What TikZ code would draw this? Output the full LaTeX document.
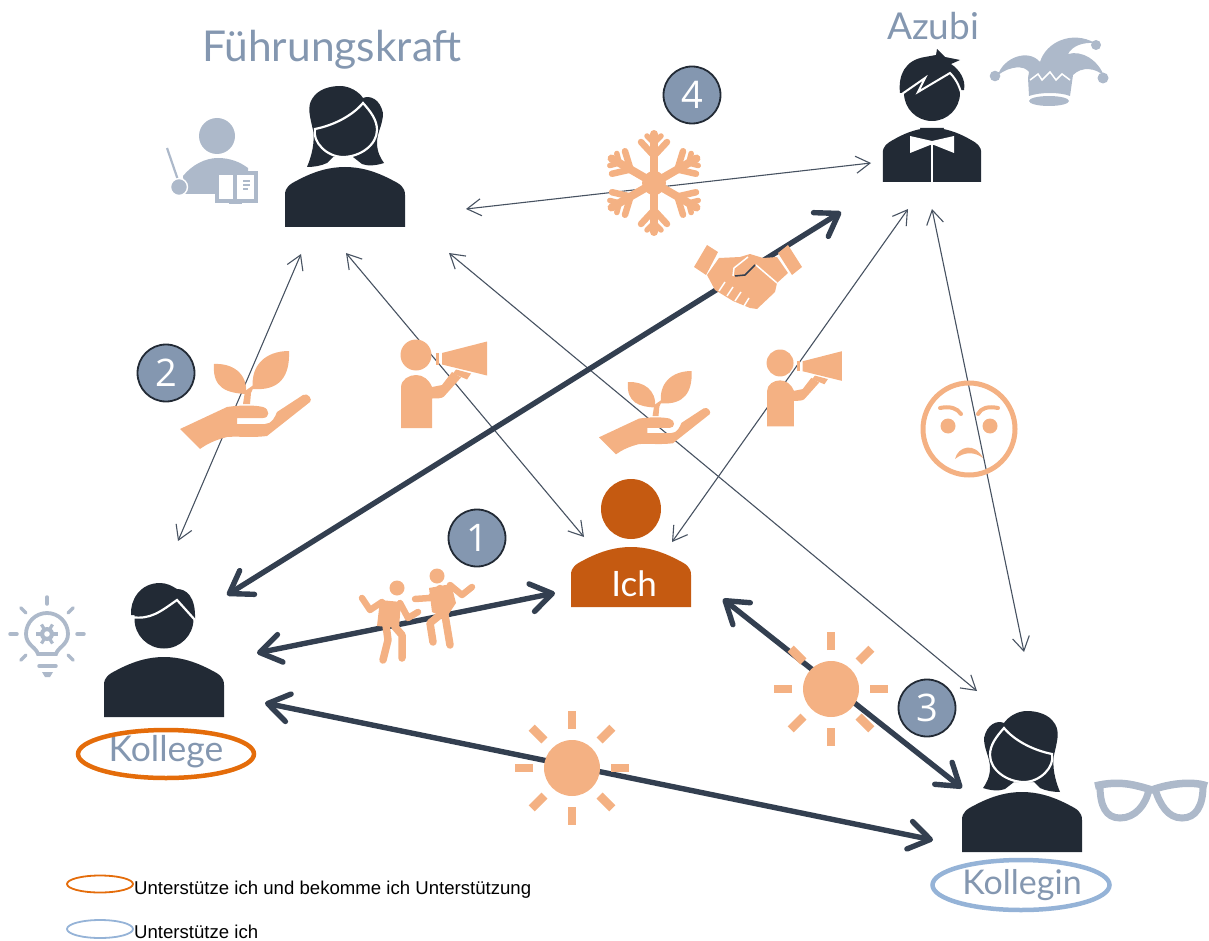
\documentclass[tikz,border=0pt]{standalone}
\usepackage{fontspec}
\setmainfont{Lato}
\newfontfamily\legendfont{Liberation Sans}
\newfontfamily\numfont{Open Sans}
\usetikzlibrary{arrows.meta,shapes.geometric}
\definecolor{figdark}{HTML}{222A35}
\definecolor{ichbrown}{HTML}{C55A11}
\definecolor{iconorange}{HTML}{F4B183}
\definecolor{icongrey}{HTML}{ADB9CA}
\definecolor{labelblue}{HTML}{8497B0}
\definecolor{linkdark}{HTML}{333F50}
\definecolor{ringorange}{HTML}{E46C0A}
\definecolor{ringblue}{HTML}{95B3D7}
\tikzset{
  weaklink/.style={{Straight Barb[length=14pt,width=17pt]}-{Straight Barb[length=14pt,width=17pt]},linkdark!90!white,line width=1.1pt},
  stronglink/.style={{Straight Barb[round,length=21pt,width=28pt]}-{Straight Barb[round,length=21pt,width=28pt]},linkdark,line width=5.4pt},
  rolelabel/.style={labelblue,font=\fontsize{37}{37}\selectfont,inner sep=0pt},
  numberdot/.style={circle,draw=figdark,line width=1.8pt,fill=labelblue,minimum size=57pt,inner sep=0pt,text=white,font=\numfont\fontsize{38}{38}\selectfont},
  legendtext/.style={anchor=base west,inner sep=0pt,font=\legendfont\fontsize{18.6}{18.6}\selectfont},
  ring/.style={draw,ellipse,line width=4.5pt,fill=none},
  bodypic/.pic={
    \fill[pic actions] (-60,60) -- (-60,28) .. controls (-60,20) and (-55,17) .. (-47,13) .. controls (-30,4) and (-15,0) .. (0,0)
      .. controls (15,0) and (30,4) .. (47,13) .. controls (55,17) and (60,20) .. (60,28) -- (60,60) -- cycle;
  },
  womanhead/.pic={
    \fill[figdark] (-38,0) .. controls (-33,-12) and (-30,-25) .. (-32,-37) .. controls (-35,-50) and (-38,-60) .. (-33,-68)
      .. controls (-27,-78) and (-15,-81) .. (-5,-81) .. controls (5,-81) and (14,-75) .. (18,-69)
      .. controls (25,-72) and (35,-68) .. (38,-54) .. controls (38,-42) and (32,-35) .. (32,-24)
      .. controls (32,-15) and (36,-8) .. (39,-4) .. controls (30,-1) and (22,-1) .. (17,-3) -- (8,-10) -- (-12,-10) -- (-18,-4)
      .. controls (-24,-1) and (-32,0) .. (-38,0) -- cycle;
    \filldraw[fill=figdark,draw=white,line width=2.2pt] (-30,-38) .. controls (-10,-42) and (8,-52) .. (18,-64)
      .. controls (26,-55) and (32,-47) .. (32,-37) .. controls (32,-22) and (15,-10) .. (-2,-10)
      .. controls (-18,-10) and (-33,-25) .. (-30,-38) -- cycle;
  },
  planthand/.pic={
    \fill[iconorange] (0,78) -- (47,56) .. controls (60,54) and (75,54) .. (83,56) .. controls (90,58) and (90,67) .. (83,67)
      -- (57,67) -- (57,73) -- (85,73) .. controls (92,73) and (95,66) .. (97,61) -- (123,44)
      .. controls (128,41) and (133,49) .. (130,51) -- (87,85) .. controls (70,87) and (60,85) .. (47,86)
      .. controls (35,89) and (27,93) .. (20,98) -- cycle;
    \fill[iconorange] (34,13) .. controls (52,12) and (68,22) .. (66,43) .. controls (48,42) and (32,38) .. (34,13) -- cycle;
    \fill[iconorange] (109,0) .. controls (110,25) and (100,40) .. (73,38) .. controls (70,15) and (85,0) .. (109,0) -- cycle;
    \fill[iconorange] (63,53) -- (65,40) -- (75,33) -- (71,42) -- (70,53) -- cycle;
  },
  bullhorn/.pic={
    \fill[iconorange] (15,15.5) circle (15.5);
    \fill[iconorange] (0,88.5) -- (0,48) .. controls (0,40) and (8,35.5) .. (15,35.5) .. controls (22,35.5) and (28,40) .. (31,47.5)
      -- (41,45.5) -- (51,32.5) -- (60,38) -- (43,57) .. controls (41,59) and (36,59) .. (31,59) -- (31,88.5) -- cycle;
    \fill[iconorange] (41,13.5) -- (86,2) -- (86,36) -- (41,25) -- cycle;
    \fill[iconorange] (35,13.5) rectangle (38,25);
    \fill[iconorange] (55,30) -- (70,34) -- (66,40) -- (52,34) -- cycle;
  },
  sunrays/.pic={
    \fill[iconorange] (0,0) circle (28);
    \foreach \a in {0,45,...,315} {
      \draw[iconorange,line width=8.5pt] (\a:39) -- (\a:57);
    }
  },
}
\begin{document}
\begin{tikzpicture}[x=1pt,y=-1pt]
  \useasboundingbox (0,0) rectangle (1209,941);

  % Link ends
  \coordinate (fkEast) at (466,209);
  \coordinate (fkSw) at (301,254);
  \coordinate (fkS) at (346,253);
  \coordinate (fkSe) at (449,253);
  \coordinate (azWest) at (871,163);
  \coordinate (azSw) at (841,212);
  \coordinate (azS) at (908,209);
  \coordinate (azSe) at (932,209);
  \coordinate (koNorth) at (178,541);
  \coordinate (koNe) at (227,595);
  \coordinate (koEast) at (257,653);
  \coordinate (koSe) at (265,703);
  \coordinate (ichNw) at (584,537);
  \coordinate (ichNe) at (672,542);
  \coordinate (ichWest) at (555,593);
  \coordinate (ichSe) at (723,599);
  \coordinate (kinNw) at (977,691);
  \coordinate (kinNorth) at (1024,652);
  \coordinate (kinWest) at (962,788);
  \coordinate (kinSw) at (933,840);

  % Thin links
  \draw[weaklink] (fkEast) -- (azWest);
  \draw[weaklink] (fkSw) -- (koNorth);
  \draw[weaklink] (fkS) -- (ichNw);
  \draw[weaklink] (fkSe) -- (kinNw);
  \draw[weaklink] (ichNe) -- (azS);
  \draw[weaklink] (azSe) -- (kinNorth);

  % Thick links
  \draw[stronglink] (koNe) -- (azSw);
  \draw[stronglink] (koEast) -- (ichWest);
  \draw[stronglink] (koSe) -- (kinSw);
  \draw[stronglink] (ichSe) -- (kinWest);

  % People
  \pic[fill=figdark] at (345,167) {bodypic};
  \pic at (345,167) {womanhead};
  \pic[fill=figdark] at (1022,792) {bodypic};
  \pic[xscale=-1] at (1022,792) {womanhead};
  \pic[fill=ichbrown] at (631,547) {bodypic};
  \fill[ichbrown] (631,509) circle (30);
  \pic[fill=figdark] at (164,657) {bodypic};
  \fill[figdark] (164,619) circle (29.5);
  \fill[figdark] (131,615) .. controls (130,600) and (140,583) .. (160,583) .. controls (167,583) and (172,586) .. (177,589)
    .. controls (186,589) and (196,596) .. (195,620) -- cycle;
  \draw[white,line width=2.2pt] (131,617) .. controls (150,620) and (160,612) .. (177,600) -- (195,620);
  \pic[fill=figdark,xscale=0.82,yscale=0.9] at (932,128) {bodypic};
  \fill[figdark] (932,93) circle (28);
  \fill[figdark] (900,93) .. controls (898,75) and (905,60) .. (925,57) -- (936,55) -- (937,49) -- (945,57) -- (960,60) -- (951,64)
    .. controls (960,70) and (966,80) .. (964,90) -- cycle;
  \draw[white,line width=2pt] (902,94) -- (925,78) -- (918,92) -- (950,73) .. controls (957,80) and (960,88) .. (962,96);
  \fill[white] (910,136) -- (932,141) -- (954,136) -- (954,153) -- (934,145) -- (930,145) -- (910,153) -- cycle;
  \fill[figdark] (920,128) .. controls (922,140) and (942,140) .. (944,128) -- cycle;
  \draw[white,line width=2pt] (932,145) -- (932,182);

  % Role labels
  \node[rolelabel,font=\fontsize{42.5}{42.5}\selectfont] (fkLabel) at (332,50) {Führungskraft};
  \node[rolelabel] (azLabel) at (933,26) {Azubi};
  \node[rolelabel,font=\fontsize{35.5}{35.5}\selectfont] (koLabel) at (166,752) {Kollege};
  \node[rolelabel,font=\fontsize{34}{34}\selectfont] (kinLabel) at (1022,885) {Kollegin};
  \node[rolelabel,text=white,font=\fontsize{35}{35}\selectfont] (ichLabel) at (634,584) {Ich};
  \node[ring,ringorange,minimum width=176pt,minimum height=48pt] (koRing) at (166,754) {};
  \node[ring,ringblue,minimum width=177pt,minimum height=50pt] (kinRing) at (1021,885) {};

  % Numbers
  \node[numberdot] (numOne) at (477,538) {1};
  \node[numberdot] (numTwo) at (166,373) {2};
  \node[numberdot] (numThree) at (927,708) {3};
  \node[numberdot] (numFour) at (692,95) {4};

  % Orange icons
  \pic at (180,351) {planthand};
  \pic[scale=0.85] at (599,371) {planthand};
  \pic at (401,339.5) {bullhorn};
  \pic[scale=0.87] at (767,349.5) {bullhorn};
  \pic at (572,768) {sunrays};
  \pic at (831,689) {sunrays};

  % Snowflake
  \fill[iconorange] (654,183) circle (12);
  \foreach \a in {30,90,...,330} {
    \begin{scope}[shift={(654,183)},rotate=\a,line cap=round,iconorange]
      \draw[line width=8pt] (0,0) -- (49,0);
      \draw[line width=6.5pt] (27,0) -- (41,13);
      \draw[line width=6.5pt] (27,0) -- (41,-13);
      \draw[line width=5.5pt] (40,0) -- (47,7);
      \draw[line width=5.5pt] (40,0) -- (47,-7);
    \end{scope}
  }

  % Handshake
  \fill[iconorange] (707,245) -- (718,252) -- (706,275) -- (694,267) -- cycle;
  \fill[iconorange] (788,245) -- (802,267) -- (792,275) -- (778,253) -- cycle;
  \fill[iconorange] (719,258) -- (740,257) -- (750,254) -- (763,258) -- (777,257) -- (788,273) -- (777,283) -- (775,292)
    -- (757,309) -- (750,308) -- (733,301) -- (715,290) -- (707,275) -- cycle;
  \draw[white,line width=1.5pt] (733,276) -- (734,268) -- (748,257);
  \draw[linkdark,line width=1.5pt] (735,276) -- (745,275) -- (755,265);
  \draw[white,line width=1.5pt] (756,265) -- (777,283);
  \draw[white,line width=1.5pt] (725,282) -- (719,291) (733,287) -- (727,296) (741,292) -- (735,301) (749,298) -- (744,306);

  % Dancers
  \begin{scope}[iconorange,line cap=round,line join=round]
    \fill (397,588) circle (7.5);
    \fill (380,600) -- (401,602) -- (399,628) -- (377,626) -- cycle;
    \draw[line width=6.5pt] (362,598) -- (370,610) -- (382,602) (400,603) -- (408,618) -- (418,612);
    \draw[line width=7.5pt] (386,625) -- (388,640) -- (383,660) (395,627) -- (402,635) -- (402,658);
    \fill (437,576) circle (7.5);
    \fill (429,588) -- (451,584) -- (456,603) -- (446,618) -- (432,612) -- cycle;
    \draw[line width=6.5pt] (415,599) -- (430,598) -- (440,588) (450,585) -- (462,595) -- (472,587);
    \draw[line width=7.5pt] (440,615) -- (430,623) -- (433,642) (445,615) -- (450,645);
  \end{scope}

  % Angry face
  \draw[iconorange,line width=5pt] (969,429) circle (46);
  \fill[iconorange] (948,426) circle (7.5) (990,426) circle (7.5);
  \draw[iconorange,line width=4pt,line cap=round] (940,408) .. controls (950,406) and (957,408) .. (961,414);
  \draw[iconorange,line width=4pt,line cap=round] (998,408) .. controls (988,406) and (981,408) .. (978,414);
  \fill[iconorange] (955,459) .. controls (958,446) and (975,442) .. (983,458) .. controls (975,452) and (965,451) .. (955,459) -- cycle;

  % Teacher
  \fill[icongrey] (217,136) circle (18);
  \fill[icongrey] (185,194) -- (183,176) .. controls (192,165) and (205,158) .. (218,158) .. controls (230,158) and (240,162) .. (248,168) -- (248,194) -- cycle;
  \draw[icongrey,line width=2.2pt] (167,148) -- (178,180);
  \filldraw[fill=icongrey,draw=white,line width=1.4pt] (179,187) circle (8.5);
  \filldraw[fill=white,draw=icongrey,line width=3.4pt] (217,173) rectangle (256,201);
  \fill[icongrey] (233,172) rectangle (237,202);
  \fill[icongrey] (229,201) rectangle (242,204);
  \draw[icongrey,line width=1.3pt] (243,181) -- (250,181) (243,185) -- (250,185) (243,189) -- (248,189);

  % Jester hat
  \fill[icongrey] (1028,78) -- (1029,72) .. controls (1024,65) and (1010,66) .. (998,75) .. controls (1003,58) and (1028,48) .. (1040,62)
    .. controls (1046,42) and (1072,30) .. (1095,43) .. controls (1083,42) and (1072,46) .. (1068,54)
    .. controls (1082,50) and (1098,60) .. (1104,76) .. controls (1096,68) and (1082,66) .. (1073,75) -- (1070,96)
    .. controls (1060,92) and (1040,92) .. (1029,96) -- cycle;
  \draw[white,line width=1.5pt] (1030,80) -- (1038,74) -- (1042,80) -- (1050,72) -- (1056,80) -- (1062,74) -- (1070,80);
  \fill[icongrey] (995,76) circle (5.3) (1103,78) circle (5.5) (1096,45) circle (5);
  \fill[icongrey] (1049,101) ellipse (20 and 5);

  % Glasses
  \draw[icongrey,line width=7.5pt,line join=round] (1095,786) .. controls (1120,780) and (1135,785) .. (1152,790) .. controls (1165,785) and (1190,780) .. (1207,786);
  \draw[icongrey,line width=7pt] (1100,786) .. controls (1100,806) and (1106,818) .. (1120,818) .. controls (1135,818) and (1146,805) .. (1149,789);
  \draw[icongrey,line width=7pt] (1155,789) .. controls (1160,805) and (1168,818) .. (1182,818) .. controls (1196,818) and (1203,806) .. (1203,786);

  % Light bulb
  \draw[icongrey,line width=3.8pt] (38,654) .. controls (36,647) and (26,645) .. (26,634) arc[start angle=180,end angle=360,radius=21] .. controls (68,645) and (58,647) .. (56,654) -- cycle;
  \fill[icongrey] (47,634) circle (7);
  \foreach \a in {0,60,...,300} {
    \draw[icongrey,line width=3.2pt] (47,634) ++(\a:6) -- ++(\a:5);
  }
  \fill[white] (47,634) circle (2.8);
  \foreach \a in {0,45,180,135,225,270,315} {
    \draw[icongrey,line width=3.5pt,line cap=round] (47,634) ++(\a:30) -- ++(\a:7);
  }
  \draw[icongrey,line width=3.5pt,line cap=round] (39,666) -- (56,666);
  \fill[icongrey] (42,672) -- (53,672) -- (50,677) -- (45,677) -- cycle;

  % Legend
  \node[draw=ringorange,ellipse,line width=1.8pt,minimum width=66pt,minimum height=17pt,inner sep=0pt] (legendOrange) at (100,884) {};
  \node[draw=ringblue,ellipse,line width=1.8pt,minimum width=66pt,minimum height=18pt,inner sep=0pt] (legendBlue) at (100,929) {};
  \node[legendtext] (legendOne) at (134,894) {Unterstütze ich und bekomme ich Unterstützung};
  \node[legendtext] (legendTwo) at (134,938) {Unterstütze ich};
\end{tikzpicture}
\end{document}
